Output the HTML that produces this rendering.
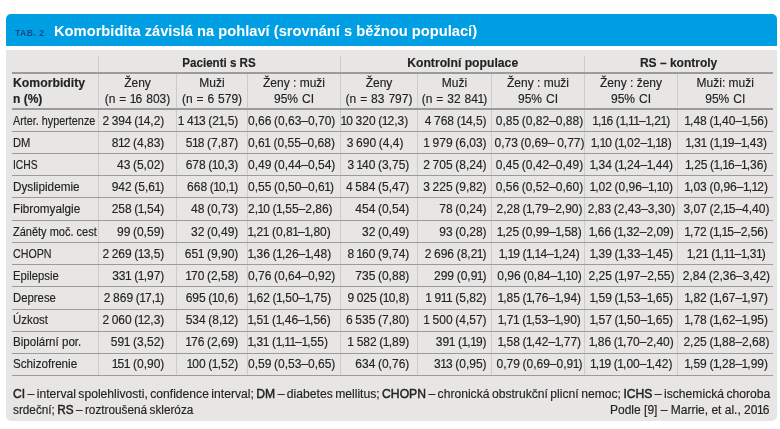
<!DOCTYPE html>
<html><head><meta charset="utf-8"><title>Tab. 2</title><style>
*{margin:0;padding:0;box-sizing:border-box}
html,body{width:780px;height:429px;overflow:hidden;background:#fff}
body{position:relative;font-family:"Liberation Sans",sans-serif;color:#232323}
.wrap{position:absolute;left:0;top:0;width:780px;height:429px;will-change:transform}
.bar{position:absolute;left:6px;top:14px;width:771px;height:32px;background:#009ee2;border-radius:5px 5px 0 0}
.box{position:absolute;left:6px;top:50px;width:771px;height:371px;background:#e7e6e5;border-radius:0 0 5px 5px}
.t{position:absolute;font-size:12px;line-height:14px;white-space:pre;-webkit-text-stroke:0.15px currentColor}
.t span{display:inline-block}
.t i{font-style:normal;letter-spacing:-0.9px;margin-left:-0.5px}
.t i.s{letter-spacing:0}
.fn b{font-weight:normal;-webkit-text-stroke:0.45px currentColor}
.fn{word-spacing:-0.9px}
#fn1{--s1:1.0107}
#fn2{--s2:0.981}
#fn3{--s3:1.0}
.tab{position:absolute;left:15px;top:27px;font:bold 9.6px/12px "Liberation Sans",sans-serif;color:#0f5080;white-space:pre;letter-spacing:0.5px}
.tab span{display:inline-block;transform:scaleX(0.9);transform-origin:left 0}
.title{position:absolute;left:54.3px;top:21.70px;font:bold 15px/18px "Liberation Sans",sans-serif;color:#fff;white-space:pre}
.title span{display:inline-block;transform:scaleX(var(--ts,1));transform-origin:left 0}
svg{position:absolute;left:0;top:0}
</style></head>
<body><div class="wrap">
<div class="bar"></div>
<div class="tab"><span>TAB. 2</span></div>
<div class="title"><span style="--ts:0.98">Komorbidita závislá na pohlaví (srovnání s běžnou populací)</span></div>
<div class="box"></div>
<svg width="780" height="429" viewBox="0 0 780 429"><rect x="12" y="72" width="761" height="2" fill="#9b9b9b"/><rect x="12" y="108" width="761" height="2" fill="#9b9b9b"/><rect x="12" y="131.00" width="761" height="1" fill="#9b9b9b"/><rect x="12" y="153.00" width="761" height="1" fill="#9b9b9b"/><rect x="12" y="175.00" width="761" height="1" fill="#9b9b9b"/><rect x="12" y="197.00" width="761" height="1" fill="#9b9b9b"/><rect x="12" y="220.00" width="761" height="1" fill="#9b9b9b"/><rect x="12" y="242.00" width="761" height="1" fill="#9b9b9b"/><rect x="12" y="264.00" width="761" height="1" fill="#9b9b9b"/><rect x="12" y="286.00" width="761" height="1" fill="#9b9b9b"/><rect x="12" y="309.00" width="761" height="1" fill="#9b9b9b"/><rect x="12" y="331.00" width="761" height="1" fill="#9b9b9b"/><rect x="12" y="353.00" width="761" height="1" fill="#9b9b9b"/><rect x="12" y="375.00" width="761" height="1" fill="#9b9b9b"/><rect x="98.0" y="56" width="1" height="16" fill="#cccccc"/><rect x="340.0" y="56" width="1" height="16" fill="#cccccc"/><rect x="584.0" y="56" width="1" height="16" fill="#cccccc"/><rect x="98.0" y="74" width="1" height="34" fill="#cccccc"/><rect x="98.0" y="110.00" width="1" height="21.00" fill="#cccccc"/><rect x="98.0" y="132.00" width="1" height="21.00" fill="#cccccc"/><rect x="98.0" y="154.00" width="1" height="21.00" fill="#cccccc"/><rect x="98.0" y="176.00" width="1" height="21.00" fill="#cccccc"/><rect x="98.0" y="198.00" width="1" height="22.00" fill="#cccccc"/><rect x="98.0" y="221.00" width="1" height="21.00" fill="#cccccc"/><rect x="98.0" y="243.00" width="1" height="21.00" fill="#cccccc"/><rect x="98.0" y="265.00" width="1" height="21.00" fill="#cccccc"/><rect x="98.0" y="287.00" width="1" height="22.00" fill="#cccccc"/><rect x="98.0" y="310.00" width="1" height="21.00" fill="#cccccc"/><rect x="98.0" y="332.00" width="1" height="21.00" fill="#cccccc"/><rect x="98.0" y="354.00" width="1" height="21.00" fill="#cccccc"/><rect x="176.0" y="74" width="1" height="34" fill="#cccccc"/><rect x="176.0" y="110.00" width="1" height="21.00" fill="#cccccc"/><rect x="176.0" y="132.00" width="1" height="21.00" fill="#cccccc"/><rect x="176.0" y="154.00" width="1" height="21.00" fill="#cccccc"/><rect x="176.0" y="176.00" width="1" height="21.00" fill="#cccccc"/><rect x="176.0" y="198.00" width="1" height="22.00" fill="#cccccc"/><rect x="176.0" y="221.00" width="1" height="21.00" fill="#cccccc"/><rect x="176.0" y="243.00" width="1" height="21.00" fill="#cccccc"/><rect x="176.0" y="265.00" width="1" height="21.00" fill="#cccccc"/><rect x="176.0" y="287.00" width="1" height="22.00" fill="#cccccc"/><rect x="176.0" y="310.00" width="1" height="21.00" fill="#cccccc"/><rect x="176.0" y="332.00" width="1" height="21.00" fill="#cccccc"/><rect x="176.0" y="354.00" width="1" height="21.00" fill="#cccccc"/><rect x="247.0" y="74" width="1" height="34" fill="#cccccc"/><rect x="247.0" y="110.00" width="1" height="21.00" fill="#cccccc"/><rect x="247.0" y="132.00" width="1" height="21.00" fill="#cccccc"/><rect x="247.0" y="154.00" width="1" height="21.00" fill="#cccccc"/><rect x="247.0" y="176.00" width="1" height="21.00" fill="#cccccc"/><rect x="247.0" y="198.00" width="1" height="22.00" fill="#cccccc"/><rect x="247.0" y="221.00" width="1" height="21.00" fill="#cccccc"/><rect x="247.0" y="243.00" width="1" height="21.00" fill="#cccccc"/><rect x="247.0" y="265.00" width="1" height="21.00" fill="#cccccc"/><rect x="247.0" y="287.00" width="1" height="22.00" fill="#cccccc"/><rect x="247.0" y="310.00" width="1" height="21.00" fill="#cccccc"/><rect x="247.0" y="332.00" width="1" height="21.00" fill="#cccccc"/><rect x="247.0" y="354.00" width="1" height="21.00" fill="#cccccc"/><rect x="340.0" y="74" width="1" height="34" fill="#cccccc"/><rect x="340.0" y="110.00" width="1" height="21.00" fill="#cccccc"/><rect x="340.0" y="132.00" width="1" height="21.00" fill="#cccccc"/><rect x="340.0" y="154.00" width="1" height="21.00" fill="#cccccc"/><rect x="340.0" y="176.00" width="1" height="21.00" fill="#cccccc"/><rect x="340.0" y="198.00" width="1" height="22.00" fill="#cccccc"/><rect x="340.0" y="221.00" width="1" height="21.00" fill="#cccccc"/><rect x="340.0" y="243.00" width="1" height="21.00" fill="#cccccc"/><rect x="340.0" y="265.00" width="1" height="21.00" fill="#cccccc"/><rect x="340.0" y="287.00" width="1" height="22.00" fill="#cccccc"/><rect x="340.0" y="310.00" width="1" height="21.00" fill="#cccccc"/><rect x="340.0" y="332.00" width="1" height="21.00" fill="#cccccc"/><rect x="340.0" y="354.00" width="1" height="21.00" fill="#cccccc"/><rect x="417.0" y="74" width="1" height="34" fill="#cccccc"/><rect x="417.0" y="110.00" width="1" height="21.00" fill="#cccccc"/><rect x="417.0" y="132.00" width="1" height="21.00" fill="#cccccc"/><rect x="417.0" y="154.00" width="1" height="21.00" fill="#cccccc"/><rect x="417.0" y="176.00" width="1" height="21.00" fill="#cccccc"/><rect x="417.0" y="198.00" width="1" height="22.00" fill="#cccccc"/><rect x="417.0" y="221.00" width="1" height="21.00" fill="#cccccc"/><rect x="417.0" y="243.00" width="1" height="21.00" fill="#cccccc"/><rect x="417.0" y="265.00" width="1" height="21.00" fill="#cccccc"/><rect x="417.0" y="287.00" width="1" height="22.00" fill="#cccccc"/><rect x="417.0" y="310.00" width="1" height="21.00" fill="#cccccc"/><rect x="417.0" y="332.00" width="1" height="21.00" fill="#cccccc"/><rect x="417.0" y="354.00" width="1" height="21.00" fill="#cccccc"/><rect x="491.0" y="74" width="1" height="34" fill="#cccccc"/><rect x="491.0" y="110.00" width="1" height="21.00" fill="#cccccc"/><rect x="491.0" y="132.00" width="1" height="21.00" fill="#cccccc"/><rect x="491.0" y="154.00" width="1" height="21.00" fill="#cccccc"/><rect x="491.0" y="176.00" width="1" height="21.00" fill="#cccccc"/><rect x="491.0" y="198.00" width="1" height="22.00" fill="#cccccc"/><rect x="491.0" y="221.00" width="1" height="21.00" fill="#cccccc"/><rect x="491.0" y="243.00" width="1" height="21.00" fill="#cccccc"/><rect x="491.0" y="265.00" width="1" height="21.00" fill="#cccccc"/><rect x="491.0" y="287.00" width="1" height="22.00" fill="#cccccc"/><rect x="491.0" y="310.00" width="1" height="21.00" fill="#cccccc"/><rect x="491.0" y="332.00" width="1" height="21.00" fill="#cccccc"/><rect x="491.0" y="354.00" width="1" height="21.00" fill="#cccccc"/><rect x="584.0" y="74" width="1" height="34" fill="#cccccc"/><rect x="584.0" y="110.00" width="1" height="21.00" fill="#cccccc"/><rect x="584.0" y="132.00" width="1" height="21.00" fill="#cccccc"/><rect x="584.0" y="154.00" width="1" height="21.00" fill="#cccccc"/><rect x="584.0" y="176.00" width="1" height="21.00" fill="#cccccc"/><rect x="584.0" y="198.00" width="1" height="22.00" fill="#cccccc"/><rect x="584.0" y="221.00" width="1" height="21.00" fill="#cccccc"/><rect x="584.0" y="243.00" width="1" height="21.00" fill="#cccccc"/><rect x="584.0" y="265.00" width="1" height="21.00" fill="#cccccc"/><rect x="584.0" y="287.00" width="1" height="22.00" fill="#cccccc"/><rect x="584.0" y="310.00" width="1" height="21.00" fill="#cccccc"/><rect x="584.0" y="332.00" width="1" height="21.00" fill="#cccccc"/><rect x="584.0" y="354.00" width="1" height="21.00" fill="#cccccc"/><rect x="677.0" y="74" width="1" height="34" fill="#cccccc"/><rect x="677.0" y="110.00" width="1" height="21.00" fill="#cccccc"/><rect x="677.0" y="132.00" width="1" height="21.00" fill="#cccccc"/><rect x="677.0" y="154.00" width="1" height="21.00" fill="#cccccc"/><rect x="677.0" y="176.00" width="1" height="21.00" fill="#cccccc"/><rect x="677.0" y="198.00" width="1" height="22.00" fill="#cccccc"/><rect x="677.0" y="221.00" width="1" height="21.00" fill="#cccccc"/><rect x="677.0" y="243.00" width="1" height="21.00" fill="#cccccc"/><rect x="677.0" y="265.00" width="1" height="21.00" fill="#cccccc"/><rect x="677.0" y="287.00" width="1" height="22.00" fill="#cccccc"/><rect x="677.0" y="310.00" width="1" height="21.00" fill="#cccccc"/><rect x="677.0" y="332.00" width="1" height="21.00" fill="#cccccc"/><rect x="677.0" y="354.00" width="1" height="21.00" fill="#cccccc"/></svg>
<div class="t" style="top:55.60px;font-weight:bold;left:19.50px;width:400px;text-align:center;"><span style="transform:scaleX(0.9650);transform-origin:center 0">Pacienti s RS</span></div><div class="t" style="top:55.60px;font-weight:bold;left:262.50px;width:400px;text-align:center;"><span style="transform:scaleX(1.0150);transform-origin:center 0">Kontrolní populace</span></div><div class="t" style="top:55.60px;font-weight:bold;left:478.60px;width:400px;text-align:center;"><span>RS – kontroly</span></div><div class="t" style="top:75.80px;font-weight:bold;left:13.00px;"><span style="transform:scaleX(1.0200);transform-origin:left 0">Komorbidity</span></div><div class="t" style="top:91.60px;font-weight:bold;left:13.00px;"><span>n (%)</span></div><div class="t" style="top:75.80px;left:-62.50px;width:400px;text-align:center;"><span>Ženy</span></div><div class="t" style="top:91.60px;left:-62.50px;width:400px;text-align:center;word-spacing:0.6px;"><span>(n = <i>1</i>6 803)</span></div><div class="t" style="top:75.80px;left:12.00px;width:400px;text-align:center;"><span>Muži</span></div><div class="t" style="top:91.60px;left:12.00px;width:400px;text-align:center;word-spacing:0.6px;"><span>(n = 6 579)</span></div><div class="t" style="top:75.80px;left:94.00px;width:400px;text-align:center;"><span>Ženy : muži</span></div><div class="t" style="top:91.60px;left:94.00px;width:400px;text-align:center;word-spacing:0.6px;"><span>95% CI</span></div><div class="t" style="top:75.80px;left:179.00px;width:400px;text-align:center;"><span>Ženy</span></div><div class="t" style="top:91.60px;left:179.00px;width:400px;text-align:center;word-spacing:0.6px;"><span>(n = 83 797)</span></div><div class="t" style="top:75.80px;left:254.50px;width:400px;text-align:center;"><span>Muži</span></div><div class="t" style="top:91.60px;left:254.50px;width:400px;text-align:center;word-spacing:0.6px;"><span>(n = 32 84<i>1</i>)</span></div><div class="t" style="top:75.80px;left:338.00px;width:400px;text-align:center;"><span>Ženy : muži</span></div><div class="t" style="top:91.60px;left:338.00px;width:400px;text-align:center;word-spacing:0.6px;"><span>95% CI</span></div><div class="t" style="top:75.80px;left:431.00px;width:400px;text-align:center;"><span>Ženy : ženy</span></div><div class="t" style="top:91.60px;left:431.00px;width:400px;text-align:center;word-spacing:0.6px;"><span>95% CI</span></div><div class="t" style="top:75.80px;left:525.25px;width:400px;text-align:center;"><span>Muži: muži</span></div><div class="t" style="top:91.60px;left:525.25px;width:400px;text-align:center;word-spacing:0.6px;"><span>95% CI</span></div><div class="t" style="top:113.90px;left:12.60px;"><span style="transform:scaleX(0.9005);transform-origin:left 0">Arter. hypertenze</span></div><div class="t" style="top:113.90px;right:615.70px;word-spacing:-0.7px;"><span>2 394 (<i>1</i>4,2)</span></div><div class="t" style="top:113.90px;right:541.70px;word-spacing:-0.7px;"><span><i class="s">1</i> 4<i>1</i>3 (2<i>1</i>,5)</span></div><div class="t" style="top:113.90px;left:248.00px;word-spacing:-0.7px;"><span>0,66 (0,63–0,70)</span></div><div class="t" style="top:113.90px;right:371.80px;word-spacing:-0.7px;"><span><i>1</i>0 320 (<i>1</i>2,3)</span></div><div class="t" style="top:113.90px;right:293.40px;word-spacing:-0.7px;"><span>4 768 (<i>1</i>4,5)</span></div><div class="t" style="top:113.90px;left:339.50px;width:400px;text-align:center;word-spacing:-0.7px;"><span>0,85 (0,82–0,88)</span></div><div class="t" style="top:113.90px;left:431.50px;width:400px;text-align:center;word-spacing:-0.7px;"><span><i>1</i>,<i>1</i>6 (<i>1</i>,<i>1</i><i>1</i>–<i>1</i>,2<i>1</i>)</span></div><div class="t" style="top:113.90px;left:526.45px;width:400px;text-align:center;word-spacing:-0.7px;"><span><i>1</i>,48 (<i>1</i>,40–<i>1</i>,56)</span></div><div class="t" style="top:136.03px;left:12.60px;"><span style="transform:scaleX(0.9319);transform-origin:left 0">DM</span></div><div class="t" style="top:136.03px;right:615.70px;word-spacing:-0.7px;"><span>8<i>1</i>2 (4,83)</span></div><div class="t" style="top:136.03px;right:541.70px;word-spacing:-0.7px;"><span>5<i>1</i>8 (7,87)</span></div><div class="t" style="top:136.03px;left:248.00px;word-spacing:-0.7px;"><span>0,6<i class="s">1</i> (0,55–0,68)</span></div><div class="t" style="top:136.03px;right:376.60px;word-spacing:-0.7px;"><span>3 690 (4,4)</span></div><div class="t" style="top:136.03px;right:293.40px;word-spacing:-0.7px;"><span><i class="s">1</i> 979 (6,03)</span></div><div class="t" style="top:136.03px;left:339.50px;width:400px;text-align:center;word-spacing:-0.7px;"><span>0,73 (0,69– 0,77)</span></div><div class="t" style="top:136.03px;left:431.50px;width:400px;text-align:center;word-spacing:-0.7px;"><span><i>1</i>,<i>1</i>0 (<i>1</i>,02–<i>1</i>,<i>1</i>8)</span></div><div class="t" style="top:136.03px;left:526.45px;width:400px;text-align:center;word-spacing:-0.7px;"><span><i>1</i>,3<i class="s">1</i> (<i>1</i>,<i>1</i>9–<i>1</i>,43)</span></div><div class="t" style="top:158.16px;left:12.60px;"><span style="transform:scaleX(0.8580);transform-origin:left 0">ICHS</span></div><div class="t" style="top:158.16px;right:615.70px;word-spacing:-0.7px;"><span>43 (5,02)</span></div><div class="t" style="top:158.16px;right:541.70px;word-spacing:-0.7px;"><span>678 (<i>1</i>0,3)</span></div><div class="t" style="top:158.16px;left:248.00px;word-spacing:-0.7px;"><span>0,49 (0,44–0,54)</span></div><div class="t" style="top:158.16px;right:370.70px;word-spacing:-0.7px;"><span>3 <i>1</i>40 (3,75)</span></div><div class="t" style="top:158.16px;right:293.40px;word-spacing:-0.7px;"><span>2 705 (8,24)</span></div><div class="t" style="top:158.16px;left:339.50px;width:400px;text-align:center;word-spacing:-0.7px;"><span>0,45 (0,42–0,49)</span></div><div class="t" style="top:158.16px;left:431.50px;width:400px;text-align:center;word-spacing:-0.7px;"><span><i>1</i>,34 (<i>1</i>,24–<i>1</i>,44)</span></div><div class="t" style="top:158.16px;left:526.45px;width:400px;text-align:center;word-spacing:-0.7px;"><span><i>1</i>,25 (<i>1</i>,<i>1</i>6–<i>1</i>,36)</span></div><div class="t" style="top:180.29px;left:12.60px;"><span style="transform:scaleX(0.9790);transform-origin:left 0">Dyslipidemie</span></div><div class="t" style="top:180.29px;right:615.70px;word-spacing:-0.7px;"><span>942 (5,6<i>1</i>)</span></div><div class="t" style="top:180.29px;right:541.70px;word-spacing:-0.7px;"><span>668 (<i>1</i>0,<i>1</i>)</span></div><div class="t" style="top:180.29px;left:248.00px;word-spacing:-0.7px;"><span>0,55 (0,50–0,6<i>1</i>)</span></div><div class="t" style="top:180.29px;right:370.70px;word-spacing:-0.7px;"><span>4 584 (5,47)</span></div><div class="t" style="top:180.29px;right:293.40px;word-spacing:-0.7px;"><span>3 225 (9,82)</span></div><div class="t" style="top:180.29px;left:339.50px;width:400px;text-align:center;word-spacing:-0.7px;"><span>0,56 (0,52–0,60)</span></div><div class="t" style="top:180.29px;left:431.50px;width:400px;text-align:center;word-spacing:-0.7px;"><span><i>1</i>,02 (0,96–<i>1</i>,<i>1</i>0)</span></div><div class="t" style="top:180.29px;left:526.45px;width:400px;text-align:center;word-spacing:-0.7px;"><span><i>1</i>,03 (0,96–<i>1</i>,<i>1</i>2)</span></div><div class="t" style="top:202.42px;left:12.60px;"><span style="transform:scaleX(0.9781);transform-origin:left 0">Fibromyalgie</span></div><div class="t" style="top:202.42px;right:615.70px;word-spacing:-0.7px;"><span>258 (<i>1</i>,54)</span></div><div class="t" style="top:202.42px;right:541.70px;word-spacing:-0.7px;"><span>48 (0,73)</span></div><div class="t" style="top:202.42px;left:248.00px;word-spacing:-0.7px;"><span>2,<i>1</i>0 (<i>1</i>,55–2,86)</span></div><div class="t" style="top:202.42px;right:370.70px;word-spacing:-0.7px;"><span>454 (0,54)</span></div><div class="t" style="top:202.42px;right:293.40px;word-spacing:-0.7px;"><span>78 (0,24)</span></div><div class="t" style="top:202.42px;left:339.50px;width:400px;text-align:center;word-spacing:-0.7px;"><span>2,28 (<i>1</i>,79–2,90)</span></div><div class="t" style="top:202.42px;left:431.50px;width:400px;text-align:center;word-spacing:-0.7px;"><span>2,83 (2,43–3,30)</span></div><div class="t" style="top:202.42px;left:526.45px;width:400px;text-align:center;word-spacing:-0.7px;"><span>3,07 (2,<i>1</i>5–4,40)</span></div><div class="t" style="top:224.55px;left:12.60px;"><span style="transform:scaleX(0.9160);transform-origin:left 0">Záněty moč. cest</span></div><div class="t" style="top:224.55px;right:615.70px;word-spacing:-0.7px;"><span>99 (0,59)</span></div><div class="t" style="top:224.55px;right:541.70px;word-spacing:-0.7px;"><span>32 (0,49)</span></div><div class="t" style="top:224.55px;left:248.00px;word-spacing:-0.7px;"><span><i>1</i>,2<i class="s">1</i> (0,8<i>1</i>–<i>1</i>,80)</span></div><div class="t" style="top:224.55px;right:370.70px;word-spacing:-0.7px;"><span>32 (0,49)</span></div><div class="t" style="top:224.55px;right:293.40px;word-spacing:-0.7px;"><span>93 (0,28)</span></div><div class="t" style="top:224.55px;left:339.50px;width:400px;text-align:center;word-spacing:-0.7px;"><span><i>1</i>,25 (0,99–<i>1</i>,58)</span></div><div class="t" style="top:224.55px;left:431.50px;width:400px;text-align:center;word-spacing:-0.7px;"><span><i>1</i>,66 (<i>1</i>,32–2,09)</span></div><div class="t" style="top:224.55px;left:526.45px;width:400px;text-align:center;word-spacing:-0.7px;"><span><i>1</i>,72 (<i>1</i>,<i>1</i>5–2,56)</span></div><div class="t" style="top:246.68px;left:12.60px;"><span style="transform:scaleX(0.8882);transform-origin:left 0">CHOPN</span></div><div class="t" style="top:246.68px;right:615.70px;word-spacing:-0.7px;"><span>2 269 (<i>1</i>3,5)</span></div><div class="t" style="top:246.68px;right:541.70px;word-spacing:-0.7px;"><span>65<i class="s">1</i> (9,90)</span></div><div class="t" style="top:246.68px;left:248.00px;word-spacing:-0.7px;"><span><i>1</i>,36 (<i>1</i>,26–<i>1</i>,48)</span></div><div class="t" style="top:246.68px;right:370.70px;word-spacing:-0.7px;"><span>8 <i>1</i>60 (9,74)</span></div><div class="t" style="top:246.68px;right:293.40px;word-spacing:-0.7px;"><span>2 696 (8,2<i>1</i>)</span></div><div class="t" style="top:246.68px;left:339.50px;width:400px;text-align:center;word-spacing:-0.7px;"><span><i>1</i>,<i>1</i>9 (<i>1</i>,<i>1</i>4–<i>1</i>,24)</span></div><div class="t" style="top:246.68px;left:431.50px;width:400px;text-align:center;word-spacing:-0.7px;"><span><i>1</i>,39 (<i>1</i>,33–<i>1</i>,45)</span></div><div class="t" style="top:246.68px;left:526.45px;width:400px;text-align:center;word-spacing:-0.7px;"><span><i>1</i>,2<i class="s">1</i> (<i>1</i>,<i>1</i><i>1</i>–<i>1</i>,3<i>1</i>)</span></div><div class="t" style="top:268.81px;left:12.60px;"><span style="transform:scaleX(0.9383);transform-origin:left 0">Epilepsie</span></div><div class="t" style="top:268.81px;right:615.70px;word-spacing:-0.7px;"><span>33<i class="s">1</i> (<i>1</i>,97)</span></div><div class="t" style="top:268.81px;right:541.70px;word-spacing:-0.7px;"><span><i>1</i>70 (2,58)</span></div><div class="t" style="top:268.81px;left:248.00px;word-spacing:-0.7px;"><span>0,76 (0,64–0,92)</span></div><div class="t" style="top:268.81px;right:370.70px;word-spacing:-0.7px;"><span>735 (0,88)</span></div><div class="t" style="top:268.81px;right:293.40px;word-spacing:-0.7px;"><span>299 (0,9<i>1</i>)</span></div><div class="t" style="top:268.81px;left:339.50px;width:400px;text-align:center;word-spacing:-0.7px;"><span>0,96 (0,84–<i>1</i>,<i>1</i>0)</span></div><div class="t" style="top:268.81px;left:431.50px;width:400px;text-align:center;word-spacing:-0.7px;"><span>2,25 (<i>1</i>,97–2,55)</span></div><div class="t" style="top:268.81px;left:526.45px;width:400px;text-align:center;word-spacing:-0.7px;"><span>2,84 (2,36–3,42)</span></div><div class="t" style="top:290.94px;left:12.60px;"><span style="transform:scaleX(0.9458);transform-origin:left 0">Deprese</span></div><div class="t" style="top:290.94px;right:615.70px;word-spacing:-0.7px;"><span>2 869 (<i>1</i>7,<i>1</i>)</span></div><div class="t" style="top:290.94px;right:541.70px;word-spacing:-0.7px;"><span>695 (<i>1</i>0,6)</span></div><div class="t" style="top:290.94px;left:248.00px;word-spacing:-0.7px;"><span><i>1</i>,62 (<i>1</i>,50–<i>1</i>,75)</span></div><div class="t" style="top:290.94px;right:370.70px;word-spacing:-0.7px;"><span>9 025 (<i>1</i>0,8)</span></div><div class="t" style="top:290.94px;right:293.40px;word-spacing:-0.7px;"><span><i class="s">1</i> 9<i>1</i><i class="s">1</i> (5,82)</span></div><div class="t" style="top:290.94px;left:339.50px;width:400px;text-align:center;word-spacing:-0.7px;"><span><i>1</i>,85 (<i>1</i>,76–<i>1</i>,94)</span></div><div class="t" style="top:290.94px;left:431.50px;width:400px;text-align:center;word-spacing:-0.7px;"><span><i>1</i>,59 (<i>1</i>,53–<i>1</i>,65)</span></div><div class="t" style="top:290.94px;left:526.45px;width:400px;text-align:center;word-spacing:-0.7px;"><span><i>1</i>,82 (<i>1</i>,67–<i>1</i>,97)</span></div><div class="t" style="top:313.07px;left:12.60px;"><span style="transform:scaleX(0.9513);transform-origin:left 0">Úzkost</span></div><div class="t" style="top:313.07px;right:615.70px;word-spacing:-0.7px;"><span>2 060 (<i>1</i>2,3)</span></div><div class="t" style="top:313.07px;right:541.70px;word-spacing:-0.7px;"><span>534 (8,<i>1</i>2)</span></div><div class="t" style="top:313.07px;left:248.00px;word-spacing:-0.7px;"><span><i>1</i>,5<i class="s">1</i> (<i>1</i>,46–<i>1</i>,56)</span></div><div class="t" style="top:313.07px;right:370.70px;word-spacing:-0.7px;"><span>6 535 (7,80)</span></div><div class="t" style="top:313.07px;right:293.40px;word-spacing:-0.7px;"><span><i class="s">1</i> 500 (4,57)</span></div><div class="t" style="top:313.07px;left:339.50px;width:400px;text-align:center;word-spacing:-0.7px;"><span><i>1</i>,7<i class="s">1</i> (<i>1</i>,53–<i>1</i>,90)</span></div><div class="t" style="top:313.07px;left:431.50px;width:400px;text-align:center;word-spacing:-0.7px;"><span><i>1</i>,57 (<i>1</i>,50–<i>1</i>,65)</span></div><div class="t" style="top:313.07px;left:526.45px;width:400px;text-align:center;word-spacing:-0.7px;"><span><i>1</i>,78 (<i>1</i>,62–<i>1</i>,95)</span></div><div class="t" style="top:335.20px;left:12.60px;"><span style="transform:scaleX(0.9658);transform-origin:left 0">Bipolární por.</span></div><div class="t" style="top:335.20px;right:615.70px;word-spacing:-0.7px;"><span>59<i class="s">1</i> (3,52)</span></div><div class="t" style="top:335.20px;right:541.70px;word-spacing:-0.7px;"><span><i>1</i>76 (2,69)</span></div><div class="t" style="top:335.20px;left:248.00px;word-spacing:-0.7px;"><span><i>1</i>,3<i class="s">1</i> (<i>1</i>,<i>1</i><i>1</i>–<i>1</i>,55)</span></div><div class="t" style="top:335.20px;right:370.70px;word-spacing:-0.7px;"><span><i class="s">1</i> 582 (<i>1</i>,89)</span></div><div class="t" style="top:335.20px;right:293.40px;word-spacing:-0.7px;"><span>39<i class="s">1</i> (<i>1</i>,<i>1</i>9)</span></div><div class="t" style="top:335.20px;left:339.50px;width:400px;text-align:center;word-spacing:-0.7px;"><span><i>1</i>,58 (<i>1</i>,42–<i>1</i>,77)</span></div><div class="t" style="top:335.20px;left:431.50px;width:400px;text-align:center;word-spacing:-0.7px;"><span><i>1</i>,86 (<i>1</i>,70–2,40)</span></div><div class="t" style="top:335.20px;left:526.45px;width:400px;text-align:center;word-spacing:-0.7px;"><span>2,25 (<i>1</i>,88–2,68)</span></div><div class="t" style="top:357.33px;left:12.60px;"><span style="transform:scaleX(0.9720);transform-origin:left 0">Schizofrenie</span></div><div class="t" style="top:357.33px;right:615.70px;word-spacing:-0.7px;"><span><i>1</i>5<i class="s">1</i> (0,90)</span></div><div class="t" style="top:357.33px;right:541.70px;word-spacing:-0.7px;"><span><i>1</i>00 (<i>1</i>,52)</span></div><div class="t" style="top:357.33px;left:248.00px;word-spacing:-0.7px;"><span>0,59 (0,53–0,65)</span></div><div class="t" style="top:357.33px;right:370.70px;word-spacing:-0.7px;"><span>634 (0,76)</span></div><div class="t" style="top:357.33px;right:293.40px;word-spacing:-0.7px;"><span>3<i>1</i>3 (0,95)</span></div><div class="t" style="top:357.33px;left:339.50px;width:400px;text-align:center;word-spacing:-0.7px;"><span>0,79 (0,69–0,9<i>1</i>)</span></div><div class="t" style="top:357.33px;left:431.50px;width:400px;text-align:center;word-spacing:-0.7px;"><span><i>1</i>,<i>1</i>9 (<i>1</i>,00–<i>1</i>,42)</span></div><div class="t" style="top:357.33px;left:526.45px;width:400px;text-align:center;word-spacing:-0.7px;"><span><i>1</i>,59 (<i>1</i>,28–<i>1</i>,99)</span></div><div class="t fn" style="top:386.80px;left:12.8px;"><span id="fn1" style="transform:scaleX(var(--s1,1));transform-origin:left 0"><b>CI</b> – interval spolehlivosti, confidence interval; <b>DM</b> – diabetes mellitus; <b>CHOPN</b> – chronická obstrukční plicní nemoc; <b>ICHS</b> – ischemická choroba</span></div><div class="t fn" style="top:402.50px;left:12.8px;"><span id="fn2" style="transform:scaleX(var(--s2,1));transform-origin:left 0">srdeční; <b>RS</b> – roztroušená skleróza</span></div><div class="t fn" style="top:402.50px;right:10.60px;word-spacing:0"><span id="fn3" style="transform:scaleX(var(--s3,1));transform-origin:right 0">Podle [9] – Marrie, et al., 20<i>1</i>6</span></div>
</div></body></html>
